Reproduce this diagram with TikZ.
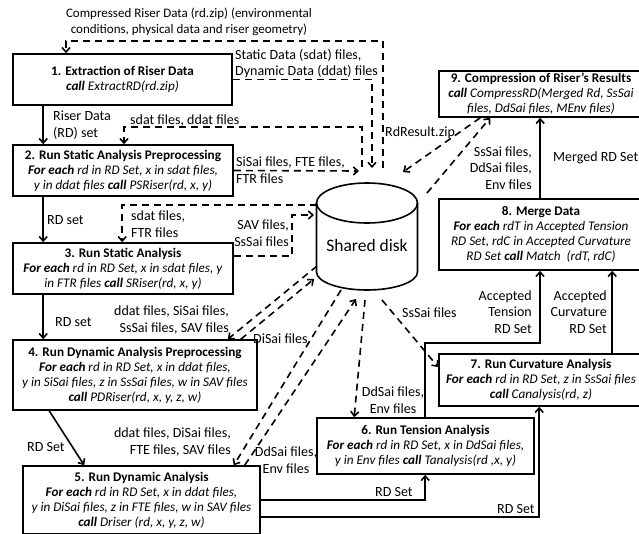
\documentclass[tikz,border=0pt]{standalone}
\usepackage{fontspec}
\setmainfont{Carlito}
\usetikzlibrary{arrows.meta,positioning}
\newcommand{\kw}[1]{\textbf{\textit{#1}}}

\begin{document}
\begin{tikzpicture}[x=1pt, y=-1pt,
    every node/.append style={inner sep=1pt},
    proc/.style={draw, line width=1.6pt, align=center, font=\fontsize{13.2}{15}\selectfont},
    lbl/.style={align=left, font=\fontsize{14}{16.5}\selectfont},
    flow/.style={line width=1.6pt, -{Straight Barb[length=4.5pt,width=8pt]}},
    data/.style={line width=1.6pt, dash pattern=on 7pt off 5pt, -{Straight Barb[length=4.5pt,width=8pt]}}]
\useasboundingbox (0,0) rectangle (639,533);
\clip (0,0) rectangle (639,533);

\node[proc, minimum width=219pt, minimum height=51pt] (extract) at (122.5,79.5)
    {\textbf{1. Extraction of Riser Data}\\\kw{call} \textit{ExtractRD(rd.zip)}};
\node[proc, minimum width=220pt, minimum height=51pt] (sprep) at (123,170.5)
    {\textbf{2. Run Static Analysis Preprocessing}\\\kw{For each} \textit{rd in RD Set, x in sdat files,}\\\textit{y in ddat files} \kw{call} \textit{PSRiser(rd, x, y)}};
\node[proc, minimum width=220pt, minimum height=51pt] (sana) at (123,268.5)
    {\textbf{3. Run Static Analysis}\\\kw{For each} \textit{rd in RD Set, x in sdat files, y}\\\textit{in FTR files} \kw{call} \textit{SRiser(rd, x, y)}};
\node[proc, minimum width=244pt, minimum height=70pt] (dprep) at (135,375)
    {\textbf{4. Run Dynamic Analysis Preprocessing}\\\kw{For each} \textit{rd in RD Set, x in ddat files,}\\\textit{y in SiSai files, z in SsSai files, w in SAV files}\\\kw{call} \textit{PDRiser(rd, x, y, z, w)}};
\node[proc, minimum width=237pt, minimum height=68pt] (dana) at (141.5,500)
    {\textbf{5. Run Dynamic Analysis}\\\kw{For each} \textit{rd in RD Set, x in ddat files,}\\\textit{y in DiSai files, z in FTE files, w in SAV files}\\\kw{call} \textit{Driser (rd, x, y, z, w)}};
\node[proc, minimum width=217pt, minimum height=56pt] (tens) at (425.5,446)
    {\textbf{6. Run Tension Analysis}\\\kw{For each} \textit{rd in RD Set, x in DdSai files,}\\\textit{y in Env files} \kw{call} \textit{Tanalysis(rd ,x, y)}};
\node[proc, minimum width=204pt, minimum height=52pt] (curv) at (541,380)
    {\textbf{7. Run Curvature Analysis}\\\kw{For each} \textit{rd in RD Set, z in SsSai files}\\\kw{call} \textit{Canalysis(rd, z)}};
\node[proc, minimum width=204pt, minimum height=71pt] (merge) at (541,234.5)
    {\textbf{8. Merge Data}\\\kw{For each} \textit{rdT in Accepted Tension}\\\textit{RD Set, rdC in Accepted Curvature}\\\textit{RD Set} \kw{call} \textit{Match\ \ (rdT, rdC)}};
\node[proc, minimum width=204pt, minimum height=46pt] (comp) at (541,94)
    {\textbf{9. Compression of Riser’s Results}\\\kw{call} \textit{CompressRD(Merged Rd, SsSai}\\\textit{files, DdSai files, MEnv files)}};

\draw[line width=1.6pt, fill=white] (316.5,203) -- (316.5,272) arc[start angle=180, end angle=0, x radius=50.5, y radius=18] -- (417.5,203);
\draw[line width=1.6pt] (367,203) ellipse[x radius=50.5, y radius=20];
\node[font=\fontsize{17.5}{20}\selectfont] (disk) at (367,245) {Shared disk};

\coordinate (dA) at (383,168);
\coordinate (dB) at (372,168);
\coordinate (dC) at (362,167);
\coordinate (dD) at (359,171);
\coordinate (dE) at (317,205);
\coordinate (dF) at (314,215);
\coordinate (dG) at (317,266);
\coordinate (dH) at (314,279);
\coordinate (dI) at (341,290);
\coordinate (dJ) at (356,299);
\coordinate (dK) at (365,300);
\coordinate (dL) at (382,300);
\coordinate (dM) at (403,172);
\coordinate (dN) at (427,193);
\coordinate (bzip) at (66,41);
\coordinate (bsd) at (124,127);
\coordinate (bsav) at (292,215);
\coordinate (bten) at (540,343);

\node[lbl, align=center, font=\fontsize{13}{16}\selectfont] (tzip) at (189,22) {Compressed Riser Data (rd.zip) (environmental\\conditions, physical data and riser geometry)};
\node[lbl, anchor=south west] (tsd) at (234,79) {Static Data (sdat) files,\\Dynamic Data (ddat) files};
\node[lbl, anchor=west] (trd) at (52,125) {Riser Data\\(RD) set};
\node[lbl, anchor=base west] (tsdd) at (129,124) {sdat files, ddat files};
\node[lbl, anchor=west] (tsisai) at (235,170) {SiSai files, FTE files,\\FTR files};
\node[lbl, anchor=west] (trd2) at (46,220) {RD set};
\node[lbl, anchor=west] (tsftr) at (130,224) {sdat files,\\FTR files};
\node[lbl, align=right, anchor=east] (tsav) at (290,233) {SAV files,\\SsSai files};
\node[lbl, anchor=west] (trd3) at (54,322) {RD set};
\node[lbl, align=right, anchor=east] (tdin) at (230,320) {ddat files, SiSai files,\\SsSai files, SAV files};
\node[lbl, anchor=west] (tdisai) at (252,339) {DiSai files};
\node[lbl, anchor=west] (trd4) at (26,447) {RD Set};
\node[lbl, align=right, anchor=east] (tdyin) at (232,442) {ddat files, DiSai files,\\FTE files, SAV files};
\node[lbl, align=center] (tdyout) at (286,460) {DdSai files,\\Env files};
\node[lbl, align=center] (ttin) at (393,400) {DdSai files,\\Env files};
\node[lbl, anchor=west] (tcin) at (401,313) {SsSai files};
\node[lbl, anchor=west] (tres) at (384,133) {RdResult.zip};
\node[lbl, align=right, anchor=east] (tcmp) at (533,168) {SsSai files,\\DdSai files,\\Env files};
\node[lbl, anchor=west] (tmrg) at (552,158) {Merged RD Set};
\node[lbl, align=right, anchor=east] (tacc) at (533,312) {Accepted\\Tension\\RD Set};
\node[lbl, align=right, anchor=east] (tacv) at (608,312) {Accepted\\Curvature\\RD Set};
\node[lbl, anchor=south west] (trd5) at (374,498) {RD Set};
\node[lbl, anchor=south west] (trd6) at (496,515) {RD Set};

\draw[data] (dA) |- (bzip) -- (bzip |- extract.north);
\draw[data] (extract.east) -| (dB);
\draw[flow] ([xshift=31pt]extract.south west) -- ([xshift=31pt]sprep.north west);
\draw[data] (dC) |- (bsd) -- (bsd |- sprep.north);
\draw[data] (sprep.east) -- (dD);
\draw[flow] ([xshift=31pt]sprep.south west) -- ([xshift=31pt]sana.north west);
\draw[data] (dE) -| ([xshift=110pt]sana.north west);
\draw[data] ([yshift=12.5pt]sana.east) -| (bsav) -- (dF);
\draw[flow] ([xshift=31pt]sana.south west) -- ([xshift=31pt]dprep.north west);
\draw[data] (dG) -- ([xshift=-30pt]dprep.north east);
\draw[data] ([xshift=-17pt]dprep.north east) -- (dH);
\draw[flow] ([xshift=37pt]dprep.south west) -- ([xshift=62pt]dana.north west);
\draw[data] (dI) -- ([xshift=-27pt]dana.north east);
\draw[data] ([xshift=-16pt]dana.north east) -- (dJ);
\draw[data] (dK) -- ([xshift=38pt]tens.north west);
\draw[data] (dL) -- ([yshift=13pt]curv.west);
\draw[data] ([xshift=42pt]comp.south west) -- (dM);
\draw[data] (dN) -- ([xshift=52pt]comp.south west);
\draw[flow] ([xshift=102pt]merge.north west) -- ([xshift=102pt]comp.south west);
\draw[flow] ([xshift=174pt]curv.north west) -- ([xshift=174pt]merge.south west);
\draw[flow] ([xshift=109pt]tens.north west) |- (bten) -- (bten |- merge.south);
\draw[flow] (dana.east) -| ([xshift=109pt]tens.south west);
\draw[flow] ([yshift=-17pt]dana.east) -| ([xshift=101pt]curv.south west);
\end{tikzpicture}
\end{document}
